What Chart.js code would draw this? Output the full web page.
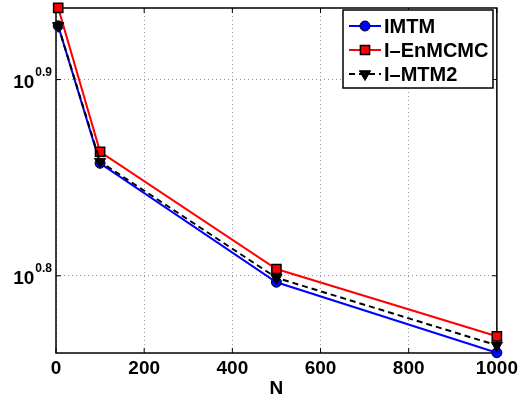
<!DOCTYPE html>
<html>
<head>
<meta charset="utf-8">
<script src="https://cdn.jsdelivr.net/npm/chart.js@4/dist/chart.umd.min.js"></script>
<style>
  html, body { margin: 0; padding: 0; background: #fff; }
  #wrap { width: 522px; height: 402px; position: relative; }
</style>
</head>
<body>
<div id="wrap"><canvas id="chart"></canvas></div>
<script>
// values
const nValues = [5, 100, 500, 1000];
const imtm = [8.46, 7.20, 6.262, 5.765];
const enmcmc = [8.64, 7.298, 6.36, 5.877];
const mtm2 = [8.46, 7.214, 6.295, 5.815];
const xTicks = [0, 200, 400, 600, 800, 1000];
const yTickExps = [0.8, 0.9];

const FONT = '"Liberation Sans", Arial, Helvetica, sans-serif';

function pts(ys) {
  return nValues.map((n, i) => ({x: n, y: ys[i]}));
}

// axes box, inward tick marks and the 10^x labels
const axesBox = {
  id: 'axesBox',
  beforeDatasetsDraw(chart) {
    const {ctx, chartArea: a, scales} = chart;
    ctx.save();
    ctx.strokeStyle = '#000';
    ctx.lineWidth = 1.5;
    ctx.strokeRect(a.left, a.top, a.right - a.left, a.bottom - a.top);
    ctx.lineWidth = 1;
    ctx.beginPath();
    xTicks.forEach(v => {
      const px = scales.x.getPixelForValue(v);
      ctx.moveTo(px, a.bottom); ctx.lineTo(px, a.bottom - 5);
      ctx.moveTo(px, a.top); ctx.lineTo(px, a.top + 5);
    });
    yTickExps.forEach(e => {
      const py = scales.y.getPixelForValue(Math.pow(10, e));
      ctx.moveTo(a.left, py); ctx.lineTo(a.left + 5, py);
      ctx.moveTo(a.right, py); ctx.lineTo(a.right - 5, py);
    });
    ctx.stroke();
    ctx.restore();
  },
  afterDraw(chart) {
    const {ctx, chartArea: a, scales} = chart;
    ctx.save();
    ctx.fillStyle = '#000';
    ctx.textAlign = 'left';
    ctx.textBaseline = 'alphabetic';
    yTickExps.forEach(e => {
      const py = scales.y.getPixelForValue(Math.pow(10, e));
      const sup = String(e);
      ctx.font = 'bold 12px ' + FONT;
      const sw = ctx.measureText(sup).width;
      const right = a.left - 4;
      ctx.fillText(sup, right - sw, py - 4);
      ctx.font = 'bold 19px ' + FONT;
      const bw = ctx.measureText('10').width;
      ctx.fillText('10', right - sw - bw - 1, py + 8);
    });
    ctx.restore();
  }
};

// MATLAB-style legend: line sample with a marker in the middle
const matLegend = {
  id: 'matLegend',
  afterDraw(chart) {
    const ctx = chart.ctx;
    const bx = 343, by = 10, bw = 150, bh = 78;
    ctx.save();
    ctx.fillStyle = '#fff';
    ctx.fillRect(bx, by, bw, bh);
    ctx.strokeStyle = '#000';
    ctx.lineWidth = 1.5;
    ctx.strokeRect(bx, by, bw, bh);
    chart.data.datasets.forEach((ds, i) => {
      const y = by + 16 + i * 24;
      ctx.strokeStyle = ds.borderColor;
      ctx.lineWidth = 2;
      ctx.setLineDash(ds.borderDash || []);
      ctx.beginPath();
      ctx.moveTo(349, y); ctx.lineTo(381, y);
      ctx.stroke();
      ctx.setLineDash([]);
      ctx.fillStyle = ds.pointBackgroundColor;
      ctx.strokeStyle = ds.pointBorderColor;
      ctx.lineWidth = ds.pointBorderWidth;
      Chart.helpers.drawPoint(ctx, {
        pointStyle: ds.pointStyle,
        radius: ds.pointRadius,
        rotation: ds.pointRotation || 0,
        borderWidth: ds.pointBorderWidth
      }, 365, y);
      ctx.fillStyle = '#000';
      ctx.font = 'bold 20px ' + FONT;
      ctx.textBaseline = 'middle';
      ctx.fillText(ds.label, 384, y + 1);
    });
    ctx.restore();
  }
};

new Chart(document.getElementById('chart'), {
  type: 'line',
  data: {
    datasets: [
      {
        label: 'IMTM',
        data: pts(imtm),
        borderColor: '#0000ff',
        borderWidth: 2,
        pointStyle: 'circle',
        pointRadius: 5,
        pointBackgroundColor: '#0000ff',
        pointBorderColor: '#000',
        pointBorderWidth: 1,
        order: 2
      },
      {
        label: 'I\u2013EnMCMC',
        data: pts(enmcmc),
        borderColor: '#ff0000',
        borderWidth: 2,
        pointStyle: 'rect',
        pointRadius: 6.5,
        pointBackgroundColor: '#ff0000',
        pointBorderColor: '#000',
        pointBorderWidth: 1.5,
        order: 1
      },
      {
        label: 'I\u2013MTM2',
        data: pts(mtm2),
        borderColor: '#000',
        borderWidth: 2,
        borderDash: [6, 4],
        pointStyle: 'triangle',
        pointRotation: 180,
        pointRadius: 6.5,
        pointBackgroundColor: '#000',
        pointBorderColor: '#000',
        pointBorderWidth: 1,
        order: 0
      }
    ]
  },
  options: {
    responsive: true,
    maintainAspectRatio: false,
    animation: false,
    layout: { padding: { left: 0, right: 25, top: 5, bottom: 0 } },
    elements: { line: { tension: 0 } },
    datasets: { line: { clip: false } },
    plugins: { legend: { display: false }, tooltip: { enabled: false } },
    scales: {
      x: {
        type: 'linear',
        min: 0,
        max: 1000,
        afterBuildTicks: s => { s.ticks = xTicks.map(v => ({value: v})); },
        afterFit: s => { s.height = 49; },
        grid: { color: '#999', lineWidth: 1, drawTicks: false },
        border: { display: false, dash: [1, 3] },
        ticks: {
          color: '#000',
          padding: 4,
          maxRotation: 0,
          callback: v => String(v),
          font: { family: FONT, size: 19, weight: 'bold' }
        },
        title: {
          display: true,
          text: 'N',
          color: '#000',
          padding: { top: 0, bottom: 2 },
          font: { family: FONT, size: 19, weight: 'bold' }
        }
      },
      y: {
        type: 'logarithmic',
        min: 5.763,
        max: 8.639,
        afterBuildTicks: s => { s.ticks = yTickExps.map(e => ({value: Math.pow(10, e)})); },
        afterFit: s => { s.width = 56; },
        grid: { color: '#999', lineWidth: 1, drawTicks: false },
        border: { display: false, dash: [1, 3] },
        ticks: { display: false }
      }
    }
  },
  plugins: [axesBox, matLegend]
});
</script>
</body>
</html>
